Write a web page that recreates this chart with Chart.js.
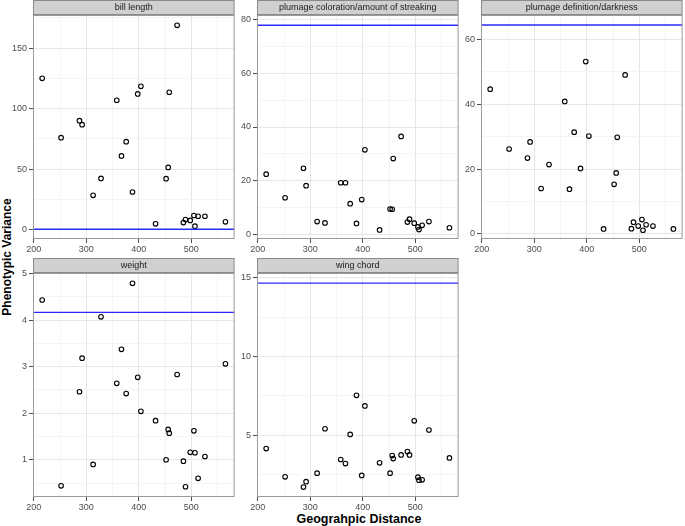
<!DOCTYPE html>
<html><head><meta charset="utf-8">
<script src="https://cdn.jsdelivr.net/npm/chart.js@4"></script>
<style>
html,body{margin:0;padding:0;background:#fff;width:685px;height:526px;overflow:hidden;position:relative;font-family:"Liberation Sans",Arial,sans-serif}
canvas{position:absolute}
.ttl{position:absolute;font-weight:bold;color:#000;white-space:nowrap}
</style></head><body>
<div class="ttl" style="left:359px;top:519px;font-size:12.5px;transform:translate(-50%,-50%)">Geograhpic Distance</div>
<div class="ttl" style="left:7px;top:257px;font-size:12px;transform:translate(-50%,-50%) rotate(-90deg)">Phenotypic Variance</div>
<script>
// ---- data ----
const distance = [216, 252, 287, 292, 313, 328, 358, 367, 376, 388, 398, 404, 432, 452, 456, 458, 473, 485, 489, 498, 505, 507, 513, 526, 565];
const billLength = [125.1, 76.1, 90.1, 86.8, 28.5, 42.4, 107.0, 61.0, 72.8, 31.2, 112.2, 118.5, 4.9, 42.2, 51.5, 113.6, 168.9, 6.0, 8.5, 7.7, 11.8, 3.0, 11.2, 11.2, 6.6];
const plumageColoration = [22.4, 13.6, 24.6, 18.1, 4.7, 4.2, 19.2, 19.2, 11.4, 4.0, 12.9, 31.5, 1.6, 9.4, 9.3, 28.2, 36.5, 4.5, 5.6, 4.1, 2.7, 1.7, 3.3, 4.7, 2.4];
const plumageDefinition = [44.7, 26.2, 23.4, 28.4, 14.0, 21.4, 40.9, 13.8, 31.4, 20.2, 53.2, 30.2, 1.5, 15.3, 18.8, 29.8, 49.1, 1.6, 3.6, 2.4, 4.4, 1.1, 2.8, 2.4, 1.5];
const weight = [4.43, 0.44, 2.46, 3.18, 0.90, 4.07, 2.64, 3.37, 2.42, 4.79, 2.77, 2.04, 1.84, 1.00, 1.65, 1.57, 2.83, 0.97, 0.42, 1.16, 1.62, 1.15, 0.60, 1.07, 3.06];
const wingChord = [4.16, 2.37, 1.72, 2.06, 2.60, 5.42, 3.47, 3.21, 5.06, 7.54, 2.46, 6.87, 3.26, 2.60, 3.72, 3.53, 3.76, 3.97, 3.76, 5.92, 2.35, 2.16, 2.18, 5.34, 3.57];
const panelTitles = ["bill length", "plumage coloration/amount of streaking", "plumage definition/darkness", "weight", "wing chord"];
const referenceLines = [0.5, 78.0, 64.5, 4.165, 14.66];
const xTicksMajor = 100, xTicksMinor = 50;

// ---- layout ----
const F = '"Liberation Sans", Arial, sans-serif';
Chart.defaults.font.family = F;
const YW = 30, XH = 16, ST = 15, W = 204, H = 224;
const X_MIN = 198.5, X_MAX = 582.5;
const cols = [33, 257, 481], rows = [15, 273];
const panels = [
  {v: billLength, ymin: -7.6, ymax: 177.4, minor: 25, major: 50, c: 0, r: 0},
  {v: plumageColoration, ymin: -1.8, ymax: 81.8, minor: 10, major: 20, c: 1, r: 0},
  {v: plumageDefinition, ymin: -1.6, ymax: 67.6, minor: 10, major: 20, c: 2, r: 0},
  {v: weight, ymin: 0.2, ymax: 5.01, minor: 0.5, major: 1, c: 0, r: 1},
  {v: wingChord, ymin: 1.09, ymax: 15.3, minor: 2.5, major: 5, c: 1, r: 1}
];
const isMajor = (v, m) => Math.abs(v / m - Math.round(v / m)) < 1e-6;

const stripPlugin = {
  id: 'strip',
  afterDraw(chart, args, opts) {
    const {ctx, chartArea: a} = chart;
    ctx.save();
    const x = a.left + 0.5, y = a.top - ST + 0.5, w = a.right - a.left - 1, h = ST - 1;
    ctx.fillStyle = '#d0d0d0'; ctx.fillRect(x, y, w, h);
    ctx.strokeStyle = '#8a8a8a'; ctx.lineWidth = 1; ctx.strokeRect(x, y, w, h);
    ctx.fillStyle = '#1a1a1a'; ctx.font = '9px ' + F;
    ctx.textAlign = 'center'; ctx.textBaseline = 'middle';
    ctx.fillText(opts.text, (a.left + a.right) / 2, a.top - ST / 2 + 0.5);
    ctx.restore();
  }
};
const borderPlugin = {
  id: 'pborder',
  afterDraw(chart) {
    const {ctx, chartArea: a} = chart;
    ctx.save(); ctx.strokeStyle = '#9a9a9a'; ctx.lineWidth = 1;
    ctx.strokeRect(a.left + 0.5, a.top + 0.5, a.right - a.left - 1, a.bottom - a.top - 1);
    ctx.restore();
  }
};

panels.forEach((p, i) => {
  const L = cols[p.c], T = rows[p.r];
  const cv = document.createElement('canvas');
  const cw = YW + W + 1, ch = ST + H + XH;
  cv.width = cw; cv.height = ch;
  cv.style.left = (L - YW) + 'px'; cv.style.top = (T - ST) + 'px';
  cv.style.width = cw + 'px'; cv.style.height = ch + 'px';
  document.body.appendChild(cv);
  new Chart(cv, {
    type: 'scatter',
    data: {datasets: [
      {type: 'line', data: [{x: X_MIN, y: referenceLines[i]}, {x: X_MAX, y: referenceLines[i]}],
       borderColor: '#2a2aff', borderWidth: 1.4, pointRadius: 0, fill: false, order: 1},
      {data: distance.map((d, k) => ({x: d, y: p.v[k]})), pointRadius: 2.3, pointHoverRadius: 2.3,
       pointBorderWidth: 1.1, borderColor: '#000', backgroundColor: 'rgba(0,0,0,0)', order: 2}
    ]},
    options: {
      responsive: false, animation: false, events: [],
      layout: {padding: {top: ST, right: 1, left: 0, bottom: 0}},
      plugins: {legend: {display: false}, tooltip: {enabled: false}, strip: {text: panelTitles[i]}},
      scales: {
        x: {type: 'linear', min: X_MIN, max: X_MAX,
          afterFit: s => { s.height = XH; },
          ticks: {stepSize: xTicksMinor, includeBounds: false, autoSkip: false, maxRotation: 0, minRotation: 0,
            padding: 1, font: {size: 9}, color: '#4d4d4d',
            callback: v => isMajor(v, xTicksMajor) ? String(v) : ''},
          grid: {color: c => isMajor(c.tick.value, xTicksMajor) ? '#e6e6e6' : '#f4f4f4',
            tickColor: c => isMajor(c.tick.value, xTicksMajor) ? '#4d4d4d' : 'rgba(0,0,0,0)',
            tickLength: 4, lineWidth: 1},
          border: {display: false}},
        y: {type: 'linear', min: p.ymin, max: p.ymax,
          afterFit: s => { s.width = YW; },
          ticks: {stepSize: p.minor, includeBounds: false, autoSkip: false,
            padding: 2, font: {size: 9}, color: '#4d4d4d',
            callback: v => isMajor(v, p.major) ? String(v) : ''},
          grid: {color: c => isMajor(c.tick.value, p.major) ? '#e6e6e6' : '#f4f4f4',
            tickColor: c => isMajor(c.tick.value, p.major) ? '#4d4d4d' : 'rgba(0,0,0,0)',
            tickLength: 4, lineWidth: 1},
          border: {display: false}}
      }
    },
    plugins: [stripPlugin, borderPlugin]
  });
});
</script>
</body></html>
